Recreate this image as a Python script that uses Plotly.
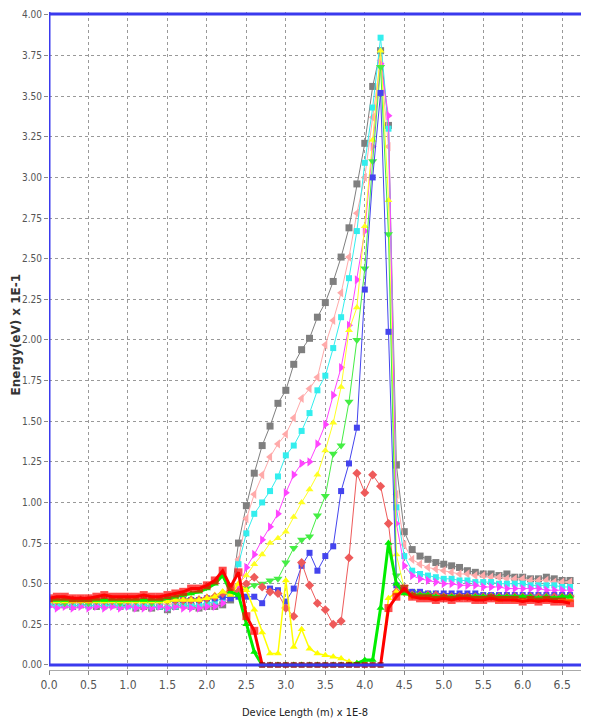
import plotly.graph_objects as go

X = [round(i / 10, 1) for i in range(67)]

gray = [0.38, 0.37, 0.37, 0.36, 0.37, 0.37, 0.36, 0.37, 0.37, 0.36, 0.37, 0.35, 0.36, 0.35, 0.36, 0.34, 0.36, 0.37, 0.36, 0.35, 0.36, 0.36, 0.37, 0.40,
        0.75, 0.98, 1.18, 1.35, 1.47, 1.61, 1.69, 1.85, 1.94, 2.01, 2.14, 2.23, 2.36, 2.51, 2.69, 2.96, 3.21, 3.56, 3.78, 3.32, 1.23,
        0.82, 0.71, 0.67, 0.65, 0.63, 0.62, 0.61, 0.60, 0.58, 0.57, 0.56, 0.56, 0.55, 0.56, 0.54, 0.54, 0.53, 0.53, 0.54, 0.53, 0.52, 0.52]
pink = [0.39, 0.38, 0.39, 0.38, 0.38, 0.39, 0.38, 0.38, 0.39, 0.38, 0.38, 0.37, 0.38, 0.37, 0.38, 0.37, 0.38, 0.38, 0.39, 0.39, 0.40, 0.41, 0.43, 0.45,
        0.65, 0.90, 1.05, 1.17, 1.28, 1.36, 1.42, 1.52, 1.64, 1.70, 1.77, 1.97, 2.12, 2.29, 2.51, 2.78, 3.00, 3.37, 3.72, 3.19, 1.05,
        0.74, 0.65, 0.62, 0.60, 0.59, 0.58, 0.57, 0.56, 0.56, 0.55, 0.55, 0.54, 0.54, 0.53, 0.53, 0.53, 0.52, 0.52, 0.52, 0.51, 0.51, 0.51]
cyan = [0.37, 0.36, 0.37, 0.36, 0.37, 0.36, 0.37, 0.36, 0.37, 0.36, 0.36, 0.36, 0.37, 0.36, 0.36, 0.35, 0.36, 0.37, 0.36, 0.37, 0.38, 0.39, 0.41, 0.44,
        0.62, 0.81, 0.93, 1.00, 1.07, 1.16, 1.29, 1.35, 1.44, 1.55, 1.69, 1.78, 1.95, 2.14, 2.38, 2.67, 3.09, 3.43, 3.86, 3.30, 0.97,
        0.67, 0.58, 0.56, 0.55, 0.54, 0.53, 0.53, 0.52, 0.52, 0.51, 0.51, 0.51, 0.50, 0.50, 0.50, 0.50, 0.49, 0.49, 0.49, 0.49, 0.48, 0.48]
magenta = [0.36, 0.35, 0.36, 0.35, 0.36, 0.35, 0.36, 0.35, 0.36, 0.35, 0.36, 0.35, 0.35, 0.35, 0.36, 0.35, 0.36, 0.35, 0.35, 0.35, 0.36, 0.36, 0.38, 0.42,
           0.47, 0.60, 0.68, 0.77, 0.85, 0.93, 1.06, 1.17, 1.24, 1.25, 1.36, 1.48, 1.66, 1.83, 2.09, 2.37, 2.67, 3.19, 3.70, 3.38, 0.87,
           0.61, 0.55, 0.53, 0.52, 0.51, 0.50, 0.50, 0.49, 0.49, 0.49, 0.48, 0.48, 0.48, 0.47, 0.47, 0.47, 0.47, 0.47, 0.46, 0.46, 0.46, 0.46]
yellow = [0.40, 0.40, 0.39, 0.40, 0.40, 0.39, 0.40, 0.40, 0.40, 0.39, 0.40, 0.40, 0.39, 0.40, 0.40, 0.40, 0.40, 0.41, 0.41, 0.41, 0.42, 0.43, 0.45, 0.46,
          0.50, 0.55, 0.62, 0.68, 0.75, 0.78, 0.82, 0.91, 1.00, 1.08, 1.17, 1.32, 1.49, 1.71, 2.06, 2.20, 2.70, 3.23, 3.78, 2.86, 0.68,
          0.47, 0.45, 0.44, 0.44, 0.44, 0.43, 0.43, 0.43, 0.43, 0.43, 0.43, 0.43, 0.42, 0.42, 0.42, 0.42, 0.42, 0.42, 0.42, 0.42, 0.42, 0.42]
green = [0.39, 0.39, 0.38, 0.39, 0.39, 0.38, 0.39, 0.39, 0.39, 0.38, 0.39, 0.39, 0.39, 0.38, 0.39, 0.39, 0.39, 0.39, 0.40, 0.40, 0.40, 0.41, 0.43, 0.44,
         0.45, 0.47, 0.49, 0.50, 0.52, 0.53, 0.63, 0.72, 0.77, 0.79, 0.92, 1.04, 1.30, 1.35, 1.62, 2.00, 2.44, 3.10, 3.68, 2.65, 0.55,
         0.48, 0.45, 0.44, 0.44, 0.43, 0.43, 0.43, 0.43, 0.43, 0.43, 0.42, 0.43, 0.42, 0.42, 0.42, 0.42, 0.42, 0.42, 0.42, 0.41, 0.42, 0.42]
blue = [0.40, 0.40, 0.40, 0.40, 0.40, 0.40, 0.40, 0.40, 0.40, 0.40, 0.40, 0.40, 0.40, 0.40, 0.40, 0.40, 0.40, 0.40, 0.40, 0.40, 0.41, 0.41, 0.42, 0.41,
        0.42, 0.42, 0.42, 0.38, 0.47, 0.46, 0.39, 0.47, 0.61, 0.69, 0.58, 0.67, 0.73, 1.07, 1.24, 1.46, 2.31, 3.00, 3.52, 2.05, 0.49,
        0.46, 0.45, 0.45, 0.44, 0.44, 0.44, 0.44, 0.44, 0.44, 0.44, 0.43, 0.43, 0.43, 0.43, 0.43, 0.43, 0.43, 0.43, 0.43, 0.43, 0.43, 0.43]
redthin = [0.40, 0.40, 0.40, 0.40, 0.40, 0.40, 0.40, 0.40, 0.40, 0.40, 0.40, 0.40, 0.40, 0.40, 0.40, 0.40, 0.40, 0.40, 0.40, 0.40, 0.41, 0.42, 0.44, 0.45,
           0.45, 0.50, 0.54, 0.48, 0.45, 0.44, 0.35, 0.30, 0.63, 0.49, 0.38, 0.34, 0.25, 0.27, 0.66, 1.18, 1.06, 1.17, 1.10, 0.87, 0.45,
           0.45, 0.43, 0.43, 0.43, 0.43, 0.42, 0.42, 0.42, 0.42, 0.42, 0.42, 0.42, 0.42, 0.42, 0.42, 0.42, 0.42, 0.42, 0.42, 0.42, 0.42, 0.42]
yellow_thin = [0.39, 0.39, 0.39, 0.39, 0.39, 0.39, 0.39, 0.39, 0.39, 0.39, 0.39, 0.39, 0.39, 0.39, 0.39, 0.39, 0.40, 0.40, 0.40, 0.40, 0.41, 0.42, 0.45, 0.43,
               0.50, 0.46, 0.34, 0.20, 0.07, 0.07, 0.52, 0.11, 0.22, 0.10, 0.07, 0.06, 0.05, 0.04, 0.02, 0.01, 0.01, 0.00, 0.00, 0.41, 0.45,
               0.44, 0.42, 0.42, 0.41, 0.41, 0.41, 0.41, 0.41, 0.41, 0.41, 0.41, 0.41, 0.40, 0.41, 0.40, 0.40, 0.40, 0.40, 0.40, 0.40, 0.40, 0.40]
green_thick = [0.40, 0.40, 0.40, 0.40, 0.40, 0.40, 0.40, 0.40, 0.40, 0.40, 0.40, 0.40, 0.40, 0.40, 0.40, 0.41, 0.42, 0.43, 0.44, 0.45, 0.47, 0.50, 0.55, 0.45,
               0.43, 0.25, 0.08, 0.00, 0.00, 0.00, 0.00, 0.00, 0.00, 0.00, 0.00, 0.00, 0.00, 0.00, 0.00, 0.01, 0.03, 0.03, 0.35, 0.75, 0.50,
               0.44, 0.43, 0.43, 0.43, 0.42, 0.42, 0.42, 0.42, 0.42, 0.42, 0.42, 0.42, 0.42, 0.42, 0.42, 0.42, 0.42, 0.41, 0.42, 0.41, 0.42, 0.42]
red = [0.41, 0.42, 0.42, 0.41, 0.41, 0.41, 0.42, 0.43, 0.42, 0.42, 0.42, 0.42, 0.43, 0.42, 0.42, 0.43, 0.44, 0.45, 0.47, 0.47, 0.49, 0.52, 0.58, 0.48, 0.57, 0.30, 0.21,
       0.00, 0.00, 0.00, 0.00, 0.00, 0.00, 0.00, 0.00, 0.00, 0.00, 0.00, 0.00, 0.00, 0.00, 0.00, 0.00,
       0.35, 0.42, 0.47, 0.42, 0.41, 0.41, 0.40, 0.41, 0.40, 0.41, 0.41, 0.40, 0.40, 0.41, 0.40, 0.40, 0.40, 0.39, 0.40, 0.39, 0.40, 0.39, 0.39, 0.38]

X_TICKS = [0.0, 0.5, 1.0, 1.5, 2.0, 2.5, 3.0, 3.5, 4.0, 4.5, 5.0, 5.5, 6.0, 6.5]
Y_TICKS = [0.0, 0.25, 0.5, 0.75, 1.0, 1.25, 1.5, 1.75, 2.0, 2.25, 2.5, 2.75, 3.0, 3.25, 3.5, 3.75, 4.0]

series = [
    (gray, "#7f7f7f", "square", 7, 1),
    (pink, "#ffaaaa", "triangle-left", 8, 1),
    (cyan, "#33eeee", "square", 6, 1),
    (magenta, "#ff44ff", "triangle-right", 8, 1),
    (yellow, "#ffff22", "triangle-up", 7, 1),
    (green, "#44ee44", "triangle-down", 8, 1),
    (blue, "#4444ee", "square", 6, 1),
    (redthin, "#ee5a5a", "diamond", 7, 1),
    (yellow_thin, "#ffff00", "triangle-up", 7, 1.5),
    (green_thick, "#00ee00", "triangle-up", 7, 3),
    (red, "#ff0000", "square", 8, 3),
]

fig = go.Figure()
for vals, col, sym, sz, lw in series:
    mcol = col
    msize = sz
    if vals is red:
        mcol = ["#8b0000" if v == 0 else col for v in vals]
        msize = [6 if v == 0 else sz for v in vals]
    fig.add_trace(go.Scatter(x=X, y=vals, mode="lines+markers",
                             line=dict(color=col, width=lw),
                             marker=dict(symbol=sym, size=msize, color=mcol, line=dict(width=0)),
                             showlegend=False, hoverinfo="skip"))

FONT = "Liberation Sans Narrow, DejaVu Sans Condensed, Liberation Sans, sans-serif"
BLUE = "#3a3aee"

fig.update_layout(
    width=581, height=717,
    margin=dict(l=41, r=0, t=4, b=55),
    paper_bgcolor="white", plot_bgcolor="white",
    font=dict(family=FONT, size=11, color="#555555"),
    xaxis=dict(range=[0, 6.84], tickvals=X_TICKS, ticktext=[f"{v:.1f}" for v in X_TICKS],
               showgrid=True, gridcolor="#999999", griddash="dot", gridwidth=1,
               zeroline=False, showline=True, linecolor="#aaaaaa", linewidth=1,
               ticks="outside", ticklen=4, tickcolor="#888888",
               tickfont=dict(family=FONT, size=12, color="#555555")),
    yaxis=dict(range=[-0.031, 4.018], tickvals=Y_TICKS, ticktext=[f"{v:.2f}" for v in Y_TICKS],
               showgrid=True, gridcolor="#999999", griddash="dot", gridwidth=1,
               zeroline=False, showline=False,
               ticks="outside", ticklen=4, tickcolor="#888888",
               tickfont=dict(family=FONT, size=10, color="#555555")),
    shapes=[
        dict(type="line", xref="paper", yref="y", x0=0, x1=1, y0=0, y1=0,
             line=dict(color=BLUE, width=3), layer="above"),
        dict(type="line", xref="paper", yref="paper", x0=0, x1=1, y0=0.997, y1=0.997,
             line=dict(color=BLUE, width=3), layer="above"),
        dict(type="line", xref="x", yref="paper", x0=0, x1=0, y0=0.0076, y1=1,
             line=dict(color=BLUE, width=3), layer="above"),
    ],
    annotations=[
        dict(text="Device Length (m) x 1E-8", xref="paper", yref="paper",
             x=0.474, y=-0.064, xanchor="center", yanchor="middle", showarrow=False,
             font=dict(family=FONT, size=11, color="#222222")),
        dict(text="<b>Energy(eV) x 1E-1</b>", xref="paper", yref="paper",
             x=-0.0611, y=0.51, xanchor="center", yanchor="middle", showarrow=False,
             textangle=-90, font=dict(family="DejaVu Sans, sans-serif", size=12, color="#333333")),
    ],
)

fig.write_html("out.html")
